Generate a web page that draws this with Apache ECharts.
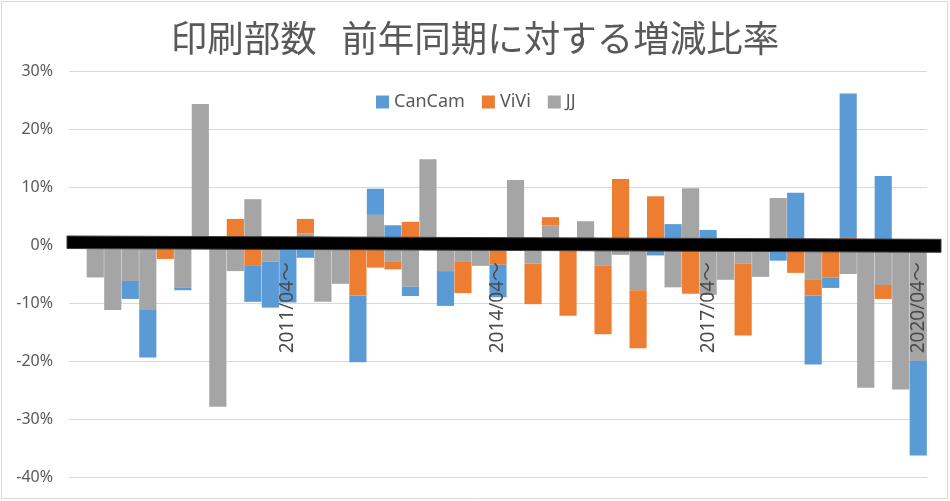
<!DOCTYPE html>
<html>
<head>
<meta charset="utf-8">
<title>印刷部数 前年同期に対する増減比率</title>
<script src="https://cdn.jsdelivr.net/npm/echarts@6/dist/echarts.min.js"></script>
<style>
  html, body { margin: 0; padding: 0; background: #fff; }
  #chart { width: 950px; height: 501px; }
</style>
</head>
<body>
<div id="chart"></div>
<script>
// 四半期 (2008/04～ ... 2020/04～)
const quarters = [
  '2008/04', '2008/07', '2008/10', '2009/01',
  '2009/04', '2009/07', '2009/10', '2010/01',
  '2010/04', '2010/07', '2010/10', '2011/01',
  '2011/04', '2011/07', '2011/10', '2012/01',
  '2012/04', '2012/07', '2012/10', '2013/01',
  '2013/04', '2013/07', '2013/10', '2014/01',
  '2014/04', '2014/07', '2014/10', '2015/01',
  '2015/04', '2015/07', '2015/10', '2016/01',
  '2016/04', '2016/07', '2016/10', '2017/01',
  '2017/04', '2017/07', '2017/10', '2018/01',
  '2018/04', '2018/07', '2018/10', '2019/01',
  '2019/04', '2019/07', '2019/10', '2020/01',
  '2020/04'
]
// 軸に表示するラベル
const labeledQuarters = ['2011/04', '2014/04', '2017/04', '2020/04']

// 増減比率 (%)
const cancam = [
  0, 0, 0, -3.1, -8.3, 0, -0.5, 0, 0, 0, -6.2, -7.9,
  -9.9, -2.2, 0, 0.3, -11.5, 4.5, 3.4, -1.6, 0, -6.0, 0, 0,
  -5.6, 0, 0, 0, 0, 0, 0, 0, 0, -1.8, 3.6, 0,
  2.6, 0, 0, 0, -2.7, 9.0, -11.9, -1.8, 24.7, 0, 11.9, 0,
  -16.3
]
const vivi = [
  0, 0, 0, 0, 0, -2.4, 0, 0, 0, 4.5, -3.6, 0,
  0, 2.5, 0, 0, -8.7, -3.9, -1.4, 4.0, 0, 0, -5.5, 0,
  -3.4, 0, -7.0, 1.4, -12.2, 0, -11.8, 11.4, -10.0, 8.4, 0, -8.4,
  0, 0, -12.4, 0, 0, -4.8, -2.8, -5.6, 1.4, 0, -2.4, 0,
  0
]
const jj = [
  0, -5.6, -11.2, -6.2, -11.1, 0, -7.3, 24.3, -27.9, -4.5, 7.9, -2.9,
  0, 2.0, -9.8, -6.7, 0, 5.2, -2.8, -7.2, 14.8, -4.5, -2.8, -3.6,
  0, 11.2, -3.2, 3.4, 0, 4.1, -3.6, -1.7, -7.8, 0, -7.3, 9.8,
  -8.6, -6.0, -3.2, -5.5, 8.1, 0, -5.9, 0, -5.0, -24.6, -6.9, -24.9,
  -20.0
]

const textColor = '#595959'
const gridColor = '#d9d9d9'
const fontFamily = '"Noto Sans", "Noto Sans CJK JP", sans-serif'

const chart = echarts.init(document.getElementById('chart'))

chart.setOption({
  animation: false,
  textStyle: { fontFamily: fontFamily },
  title: {
    text: '印刷部数   前年同期に対する増減比率',
    left: 'center',
    top: 15,
    textStyle: {
      fontSize: 36.5,
      fontWeight: 'normal',
      color: textColor,
      fontFamily: '"Noto Sans CJK JP", sans-serif'
    }
  },
  legend: {
    data: ['CanCam', 'ViVi', 'JJ'],
    left: 371,
    top: 88,
    icon: 'rect',
    itemWidth: 13,
    itemHeight: 13,
    itemGap: 17,
    textStyle: { fontSize: 18, color: textColor }
  },
  grid: {
    left: 69,
    right: 23,
    top: 71,
    bottom: 24,
    containLabel: false,
    outerBoundsMode: 'none'
  },
  xAxis: {
    type: 'category',
    data: quarters,
    z: 5,
    axisLine: { onZero: false, show: false },
    axisTick: { show: false },
    axisLabel: {
      interval: 0,
      rotate: 90,
      // ラベルは0%の線のすぐ下に置く
      margin: -215,
      fontSize: 19,
      color: '#4a4a4a',
      formatter: function (value) {
        return labeledQuarters.indexOf(value) >= 0 ? value + '～' : ''
      }
    }
  },
  yAxis: {
    type: 'value',
    min: -40,
    max: 30,
    interval: 10,
    axisLine: { show: false },
    axisTick: { show: false },
    axisLabel: {
      formatter: '{value}%',
      fontSize: 16,
      color: textColor,
      margin: 16
    },
    splitLine: { lineStyle: { color: gridColor } }
  },
  series: [
    {
      name: 'JJ',
      type: 'bar',
      stack: 'total',
      barCategoryGap: '2%',
      itemStyle: { color: '#a5a5a5' },
      data: jj
    },
    {
      name: 'ViVi',
      type: 'bar',
      stack: 'total',
      barCategoryGap: '2%',
      itemStyle: { color: '#ed7d31' },
      data: vivi
    },
    {
      name: 'CanCam',
      type: 'bar',
      stack: 'total',
      barCategoryGap: '2%',
      itemStyle: { color: '#5b9bd5' },
      data: cancam
    }
  ],
  graphic: [
    // 手書きの太線
    {
      type: 'polygon',
      z: 100,
      shape: { points: [[67, 236], [941, 239.3], [941, 252.3], [67, 248.5]] },
      style: { fill: '#000', stroke: '#3c3c3c', lineWidth: 1 }
    },
    // グラフエリアの枠
    {
      type: 'rect',
      z: 100,
      shape: { x: 1.5, y: 1.5, width: 946, height: 497 },
      style: { fill: 'none', stroke: gridColor, lineWidth: 1 }
    }
  ]
})
</script>
</body>
</html>
